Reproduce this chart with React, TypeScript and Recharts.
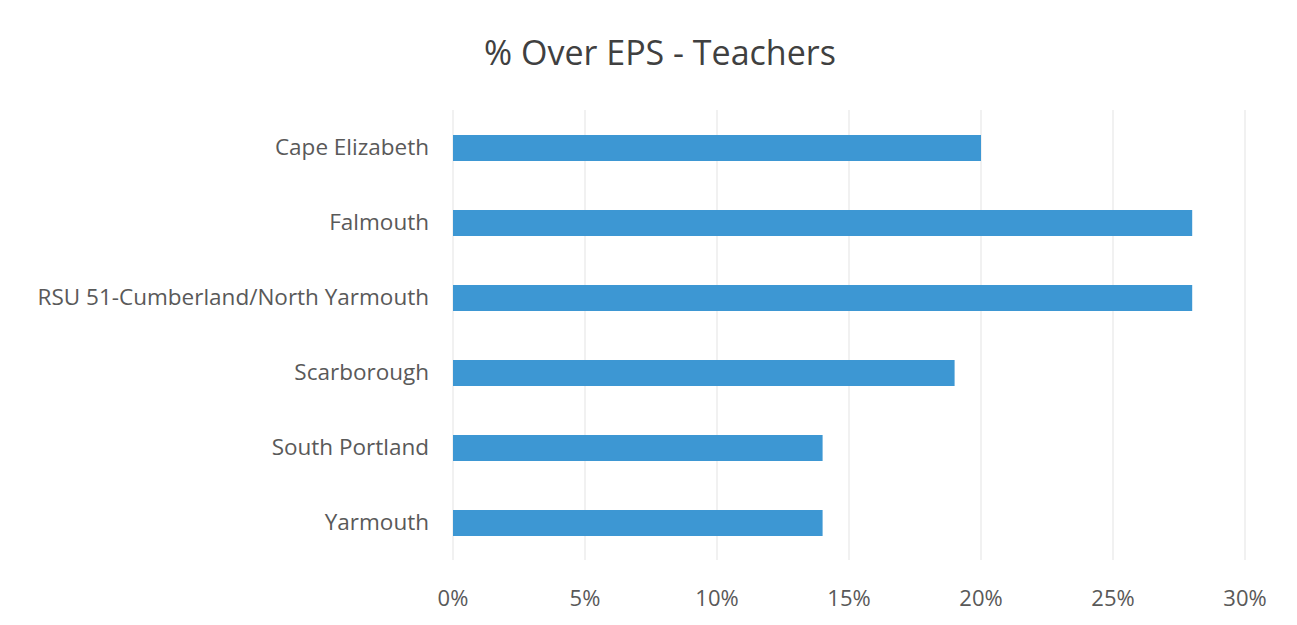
import React from "react";
import { BarChart, Bar, XAxis, YAxis, CartesianGrid } from "recharts";

const categories = [
  "Cape Elizabeth",
  "Falmouth",
  "RSU 51-Cumberland/North Yarmouth",
  "Scarborough",
  "South Portland",
  "Yarmouth",
];
const values = [0.2, 0.28, 0.28, 0.19, 0.14, 0.14];
const xTicks = [0, 0.05, 0.1, 0.15, 0.2, 0.25, 0.3];

const data = categories.map((name, i) => ({ name, value: values[i] }));

const FONT = "'Open Sans', 'Noto Sans', sans-serif";

export default function App() {
  return (
    <div style={{ position: "absolute", left: 0, top: 0, width: 1297, height: 625, background: "#fff" }}>
      <div
        style={{
          position: "absolute",
          left: 0,
          width: 1320,
          top: 29,
          textAlign: "center",
          fontFamily: FONT,
          fontSize: 34,
          color: "#404040",
        }}
      >
        % Over EPS - Teachers
      </div>
      <BarChart
        width={1297}
        height={625}
        data={data}
        layout="vertical"
        margin={{ top: 110, right: 52, bottom: 35, left: 0 }}
        barCategoryGap={0}
      >
        <CartesianGrid horizontal={false} stroke="#ececec" strokeWidth={1.5} />
        <XAxis
          type="number"
          domain={[0, 0.3]}
          ticks={xTicks}
          tickFormatter={(v: number) => `${Math.round(v * 100)}%`}
          axisLine={false}
          tickLine={false}
          tickMargin={24}
          height={30}
          tick={{ fill: "#595959", fontSize: 22, fontFamily: FONT }}
          interval={0}
        />
        <YAxis
          type="category"
          dataKey="name"
          width={453}
          axisLine={false}
          tickLine={false}
          tickMargin={18}
          tick={{ fill: "#595959", fontSize: 22.5, fontFamily: FONT }}
          interval={0}
        />
        <Bar dataKey="value" fill="#3D97D3" barSize={26} isAnimationActive={false} />
      </BarChart>
    </div>
  );
}
